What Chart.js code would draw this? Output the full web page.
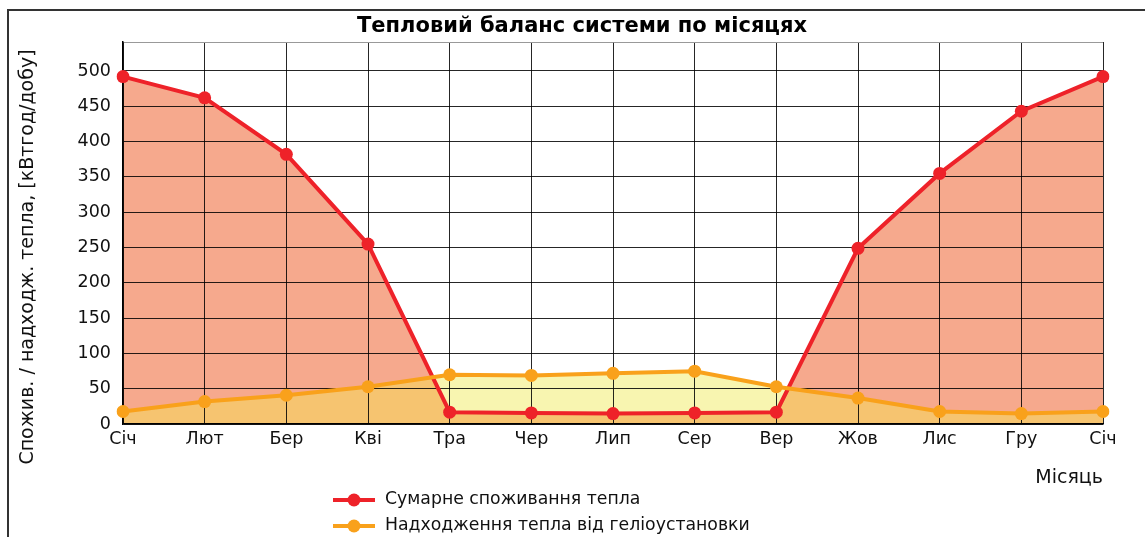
<!DOCTYPE html>
<html lang="uk">
<head>
<meta charset="utf-8">
<title>Тепловий баланс системи по місяцях</title>
<script src="https://cdn.jsdelivr.net/npm/chart.js@4.4.1/dist/chart.umd.min.js"></script>
<style>
    body { margin: 0; background: #fff; overflow: hidden; }
    #frame {
        position: absolute; left: 7px; top: 9px;
        width: 1300px; height: 700px;
        border-left: 2px solid #333; border-top: 2px solid #333;
    }
    #wrap { position: absolute; left: 0; top: 0; width: 1145px; height: 537px; }
</style>
</head>
<body>
<div id="frame"></div>
<div id="wrap"><canvas id="heatChart" width="1145" height="537"></canvas></div>
<script>

// місяці (повний цикл, січень двічі)
const months = ["Січ", "Лют", "Бер", "Кві", "Тра", "Чер", "Лип", "Сер", "Вер", "Жов", "Лис", "Гру", "Січ"];

// сумарне споживання тепла, кВтгод/добу
const consumption = [492, 462, 382, 255, 17, 16, 15, 16, 17, 249, 355, 443, 492];

// надходження тепла від геліоустановки, кВтгод/добу
const solarGain = [18, 32, 41, 53, 70, 69, 72, 75, 53, 37, 18, 15, 18];

const seriesNames = ["Сумарне споживання тепла", "Надходження тепла від геліоустановки"];

const yMax = 541;
const yStep = 50;

const RED = "#ee2229";
const ORANGE = "#f9a11b";
const FONT = "'DejaVu Sans', sans-serif";

// заголовок, підпис осі Y і легенда малюються вручну
const extrasPlugin = {
    id: "extras",
    afterDraw(chart) {
        const ctx = chart.ctx;

        // заголовок
        ctx.save();
        ctx.font = "bold 21px " + FONT;
        ctx.fillStyle = "#000";
        ctx.textAlign = "center";
        ctx.textBaseline = "middle";
        ctx.fillText("Тепловий баланс системи по місяцях", 582, 27);
        ctx.restore();

        // підпис осі Y
        ctx.save();
        ctx.translate(28, 257);
        ctx.rotate(-Math.PI / 2);
        ctx.font = "19px " + FONT;
        ctx.fillStyle = "#111";
        ctx.textAlign = "center";
        ctx.textBaseline = "middle";
        ctx.fillText("Спожив. / надходж. тепла, [кВтгод/добу]", 0, 0);
        ctx.restore();

        // легенда (спочатку споживання, потім геліоустановка)
        ctx.save();
        ctx.font = "17.3px " + FONT;
        ctx.textBaseline = "middle";
        ctx.textAlign = "left";
        const items = chart.data.datasets.slice().reverse();
        items.forEach((ds, i) => {
            const y = 500 + i * 26;
            ctx.strokeStyle = ds.borderColor;
            ctx.lineWidth = 4;
            ctx.beginPath();
            ctx.moveTo(333, y);
            ctx.lineTo(375, y);
            ctx.stroke();
            ctx.fillStyle = ds.borderColor;
            ctx.beginPath();
            ctx.arc(354, y, 6.5, 0, Math.PI * 2);
            ctx.fill();
            ctx.fillStyle = "#111";
            ctx.fillText(ds.label, 385, y);
        });
        ctx.restore();
    }
};

window.addEventListener("load", () => {

    const canvas = document.getElementById("heatChart");

    new Chart(canvas, {
        type: "line",

        data: {
            labels: months,

            datasets: [
                {
                    label: seriesNames[1],
                    data: solarGain,
                    order: 0,
                    borderColor: ORANGE,
                    backgroundColor: ORANGE,
                    borderWidth: 4,
                    pointRadius: 6.5,
                    pointBorderWidth: 0,
                    pointBackgroundColor: ORANGE,
                    // між кривими: жовте (надлишок) або лососеве (дефіцит)
                    fill: {
                        target: "+1",
                        above: "#f8f5b0",
                        below: "#f6a98d"
                    }
                },
                {
                    label: seriesNames[0],
                    data: consumption,
                    order: 1,
                    borderColor: RED,
                    backgroundColor: "#f6c470",
                    borderWidth: 4,
                    pointRadius: 6.5,
                    pointBorderWidth: 0,
                    pointBackgroundColor: RED,
                    // нижній шар: помаранчева заливка до нуля
                    fill: "origin"
                }
            ]
        },

        options: {
            responsive: false,
            animation: false,

            layout: {
                padding: { left: 0, right: 42, top: 42, bottom: 48 }
            },

            plugins: {
                legend: { display: false },
                tooltip: { enabled: false },
                title: { display: false },
                filler: { drawTime: "beforeDraw" }
            },

            scales: {
                x: {
                    type: "category",
                    offset: false,
                    grid: {
                        color: "rgba(0, 0, 0, 0.85)",
                        lineWidth: 1,
                        drawTicks: false
                    },
                    border: { color: "#000", width: 1.5 },
                    ticks: {
                        color: "#111",
                        padding: 5,
                        maxRotation: 0,
                        autoSkip: false,
                        font: { family: FONT, size: 17.5 }
                    },
                    title: {
                        display: true,
                        text: "Місяць",
                        align: "end",
                        color: "#111",
                        font: { family: FONT, size: 19 },
                        padding: { top: 11, bottom: 0 }
                    }
                },
                y: {
                    min: 0,
                    max: yMax,
                    afterFit(scale) {
                        scale.width = 123;
                    },
                    grid: {
                        color: (c) => (c.tick && c.tick.value % yStep !== 0 ? "#999" : "rgba(0, 0, 0, 0.85)"),
                        lineWidth: 1,
                        drawTicks: false
                    },
                    border: { color: "#000", width: 1.5 },
                    ticks: {
                        stepSize: yStep,
                        color: "#111",
                        padding: 12,
                        font: { family: FONT, size: 17.5 },
                        callback: (v) => (v % yStep === 0 ? v : "")
                    }
                }
            }
        },

        plugins: [extrasPlugin]
    });

});
</script>
</body>
</html>
